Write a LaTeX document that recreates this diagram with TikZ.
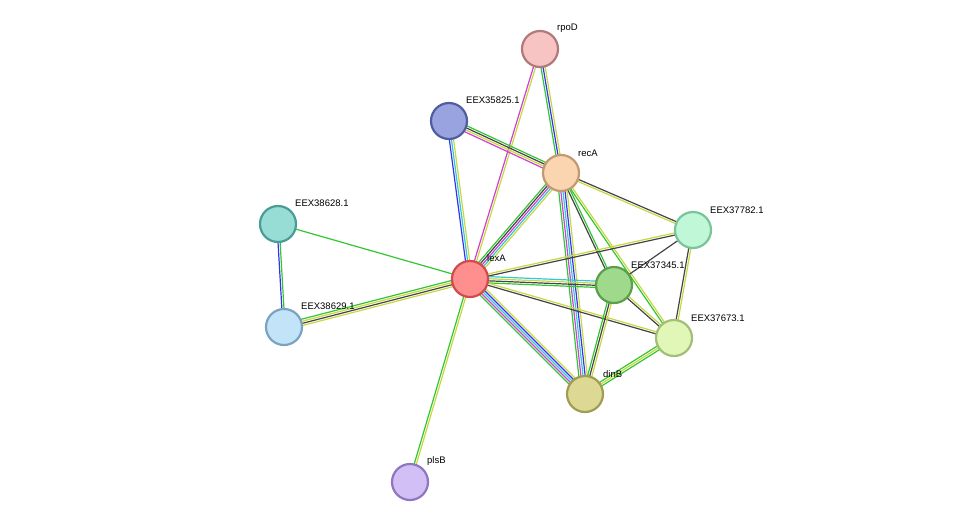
\documentclass[tikz,border=0pt]{standalone}
\usepackage{fontspec}
\setmainfont{Liberation Sans}
\usetikzlibrary{calc}
\definecolor{cg}{HTML}{33C633}
\definecolor{cb}{HTML}{3333EE}
\definecolor{cy}{HTML}{C8D840}
\definecolor{cmg}{HTML}{D040D0}
\definecolor{cc}{HTML}{33C8D8}
\definecolor{ck}{HTML}{444444}
\newcommand{\sedge}[4]{%
  \foreach \c [count=\i] in {#4} {
    \pgfmathsetmacro{\o}{(\i-(#3+1)/2)*2.1}
    \draw[draw=\c,line width=1.2pt] ($(#1)!\o pt!90:(#2)$) -- ($(#2)!\o pt!-90:(#1)$);
  }}
\tikzset{prot/.style={circle,minimum size=36pt,inner sep=0pt,line width=2.2pt},
  lab/.style={font=\fontsize{9.5}{11}\selectfont,anchor=south west,inner sep=1pt}}
\begin{document}
\begin{tikzpicture}[x=1pt,y=-1pt]
\useasboundingbox (0,0) rectangle (975,528);
\coordinate (rpoD) at (540,49);
\coordinate (e358) at (449,121);
\coordinate (recA) at (561,173);
\coordinate (e386) at (278,224);
\coordinate (e377) at (693,230);
\coordinate (lexA) at (470,279);
\coordinate (e373) at (614,285);
\coordinate (e3862) at (284,327);
\coordinate (e376) at (674,338);
\coordinate (dinB) at (585,394);
\coordinate (plsB) at (410,482);
\sedge{rpoD}{recA}{3}{cg,cb,cy}
\sedge{rpoD}{lexA}{2}{cmg,cy}
\sedge{e358}{recA}{4}{cmg,cy,ck,cg}
\sedge{e358}{lexA}{3}{cb,cc,cy}
\sedge{recA}{lexA}{5}{cg,ck,cmg,cc,cy}
\sedge{recA}{e377}{2}{cy,ck}
\sedge{recA}{e373}{2}{ck,cg}
\sedge{recA}{e376}{2}{cg,cy}
\sedge{recA}{dinB}{5}{cg,cmg,cc,cb,cy}
\sedge{e386}{lexA}{1}{cg}
\sedge{e386}{e3862}{2}{cb,cg}
\sedge{e3862}{lexA}{4}{cy,ck,cy,cg}
\sedge{lexA}{e377}{2}{ck,cy}
\sedge{lexA}{e373}{4}{cg,ck,cy,cc}
\sedge{lexA}{e376}{2}{ck,cy}
\sedge{lexA}{dinB}{5}{cg,cmg,cc,cb,cy}
\sedge{lexA}{plsB}{2}{cg,cy}
\sedge{e377}{e373}{1}{ck}
\sedge{e377}{e376}{2}{ck,cy}
\sedge{e373}{e376}{2}{ck,cy}
\sedge{e373}{dinB}{3}{cg,ck,cy}
\sedge{e376}{dinB}{3}{cg,cy,cg}
\node[prot,fill={rgb,255:red,247;green,195;blue,195},draw={rgb,255:red,176;green,122;blue,122}] (n1) at (rpoD) {};
\node[prot,fill={rgb,255:red,153;green,163;blue,224},draw={rgb,255:red,79;green,94;blue,160}] (n2) at (e358) {};
\node[prot,fill={rgb,255:red,251;green,213;blue,176},draw={rgb,255:red,194;green,154;blue,112}] (n3) at (recA) {};
\node[prot,fill={rgb,255:red,151;green,221;blue,213},draw={rgb,255:red,74;green,157;blue,149}] (n4) at (e386) {};
\node[prot,fill={rgb,255:red,191;green,247;blue,215},draw={rgb,255:red,121;green,197;blue,154}] (n5) at (e377) {};
\node[prot,fill={rgb,255:red,255;green,143;blue,143},draw={rgb,255:red,210;green,75;blue,75}] (n6) at (lexA) {};
\node[prot,fill={rgb,255:red,158;green,217;blue,140},draw={rgb,255:red,91;green,159;blue,75}] (n7) at (e373) {};
\node[prot,fill={rgb,255:red,195;green,228;blue,248},draw={rgb,255:red,122;green,163;blue,191}] (n8) at (e3862) {};
\node[prot,fill={rgb,255:red,224;green,247;blue,184},draw={rgb,255:red,163;green,190;blue,118}] (n9) at (e376) {};
\node[prot,fill={rgb,255:red,221;green,216;blue,148},draw={rgb,255:red,160;green,157;blue,82}] (n10) at (dinB) {};
\node[prot,fill={rgb,255:red,210;green,191;blue,245},draw={rgb,255:red,144;green,118;blue,192}] (n11) at (plsB) {};
\node[lab] (l1) at (556,34) {rpoD};
\node[lab] (l2) at (465,105) {EEX35825.1};
\node[lab] (l3) at (577,158) {recA};
\node[lab] (l4) at (294,208) {EEX38628.1};
\node[lab] (l5) at (709,215) {EEX37782.1};
\node[lab] (l6) at (486,263) {lexA};
\node[lab] (l7) at (630,270) {EEX37345.1};
\node[lab] (l8) at (300,311) {EEX38629.1};
\node[lab] (l9) at (690,323) {EEX37673.1};
\node[lab] (l10) at (602,379) {dinB};
\node[lab] (l11) at (426,467) {plsB};
\end{tikzpicture}
\end{document}
